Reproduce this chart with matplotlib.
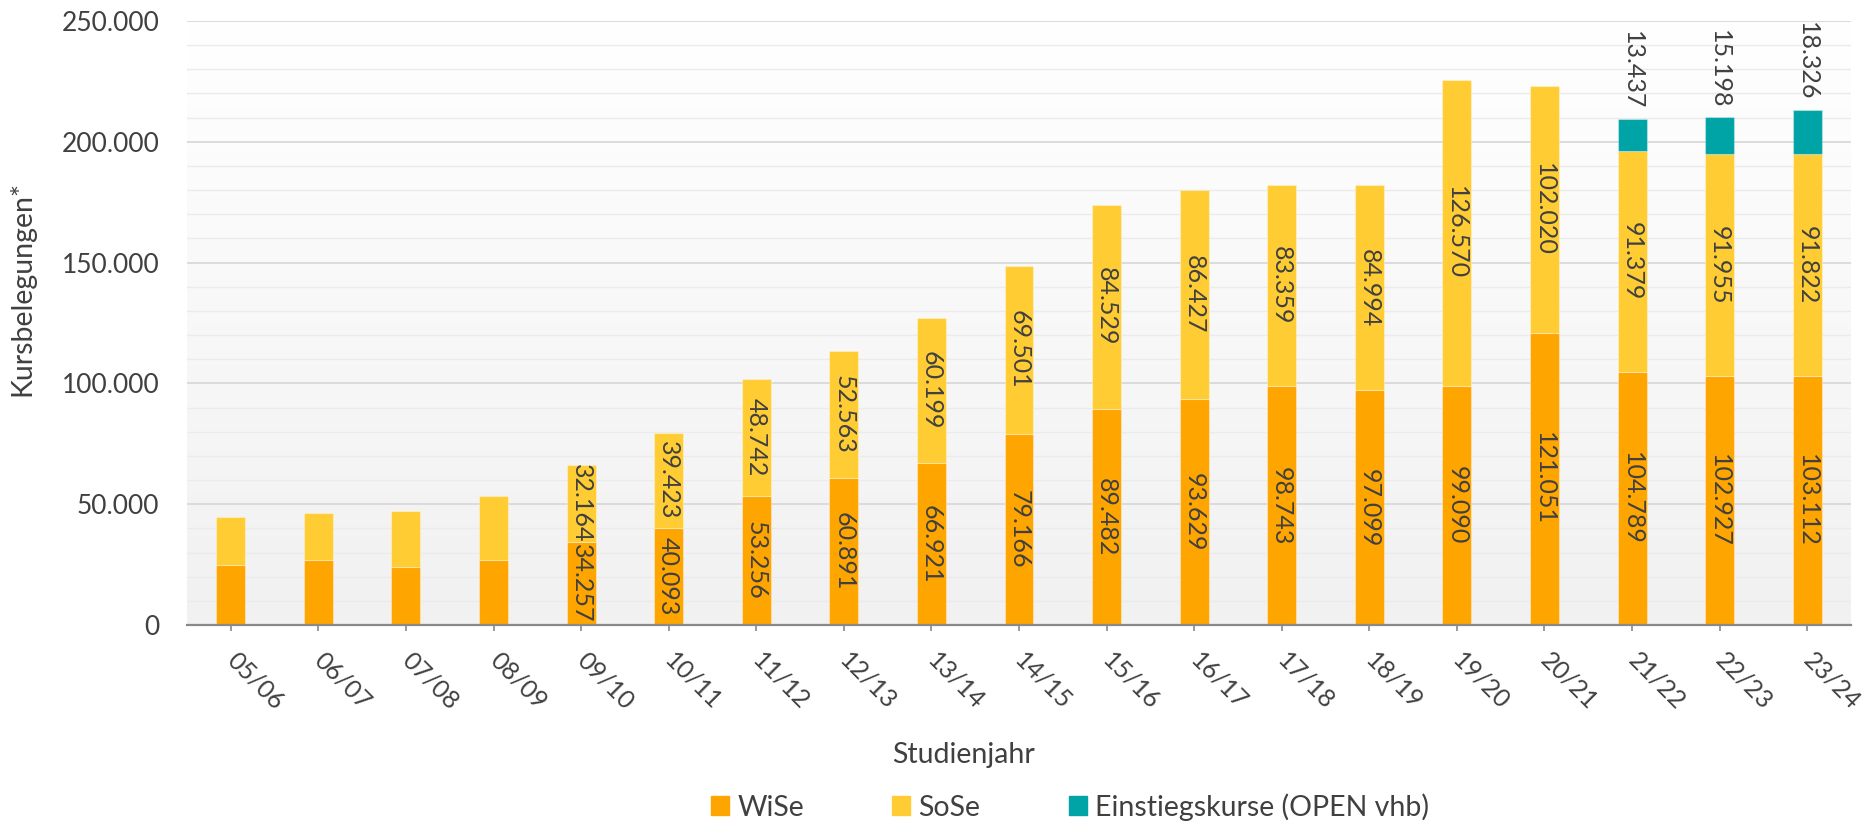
"""Kursbelegungen je Studienjahr (WiSe / SoSe / Einstiegskurse), gestapelte Säulen."""

import matplotlib.pyplot as plt
import numpy as np
from matplotlib.patches import Patch

plt.rcParams["font.family"] = ["Lato", "DejaVu Sans"]

YEARS = ["05/06", "06/07", "07/08", "08/09", "09/10", "10/11", "11/12", "12/13", "13/14",
         "14/15", "15/16", "16/17", "17/18", "18/19", "19/20", "20/21", "21/22", "22/23", "23/24"]
# first four years have no data labels in the source
WISE = [24800, 26850, 23950, 26850, 34257, 40093, 53256, 60891, 66921, 79166,
        89482, 93629, 98743, 97099, 99090, 121051, 104789, 102927, 103112]
SOSE = [19700, 19700, 23150, 26600, 32164, 39423, 48742, 52563, 60199, 69501,
        84529, 86427, 83359, 84994, 126570, 102020, 91379, 91955, 91822]
OPEN = [0, 0, 0, 0, 0, 0, 0, 0, 0, 0, 0, 0, 0, 0, 0, 0, 13437, 15198, 18326]
LABEL_START = 4

C_WISE = "#FFA500"
C_SOSE = "#FFCD33"
C_OPEN = "#00A3A6"
TXT = "#404040"
W, H = 1862, 821


def fmt(v):
    return f"{v:,}".replace(",", ".")


def main():
    fig = plt.figure(figsize=(W / 100, H / 100), dpi=100)
    ax = fig.add_axes([187 / W, 1 - 625 / H, (1851 - 187) / W, (625 - 21) / H])

    # plot area: soft white -> light grey gradient
    grad = np.linspace(1.0, 0.945, 256).reshape(-1, 1)
    ax.imshow(np.dstack([grad] * 3), extent=[0, 1, 0, 1], transform=ax.transAxes,
              aspect="auto", zorder=0)

    for v in range(10000, 250001, 10000):
        major = v % 50000 == 0
        ax.axhline(v, color="#d9d9d9" if major else "#ebebeb", lw=1.3 if major else 1.0, zorder=1)

    x = np.arange(len(YEARS))
    wise = np.array(WISE)
    sose = np.array(SOSE)
    opn = np.array(OPEN)
    bw = 0.33
    edge = dict(edgecolor=(1, 1, 1, 0.35), linewidth=0.8)

    ax.bar(x, wise, bw, color=C_WISE, zorder=3, **edge)
    ax.bar(x, sose, bw, bottom=wise, color=C_SOSE, zorder=3, **edge)
    m = opn > 0
    ax.bar(x[m], opn[m], bw, bottom=(wise + sose)[m], color=C_OPEN, zorder=3, **edge)

    lab = dict(rotation=270, ha="center", va="center", color=TXT, fontsize=18, zorder=4)
    for i in range(LABEL_START, len(YEARS)):
        ax.text(x[i], wise[i] / 2, fmt(WISE[i]), **lab)
        ax.text(x[i], wise[i] + sose[i] / 2, fmt(SOSE[i]), **lab)
    for i in x[m]:
        ax.annotate(fmt(OPEN[i]), (x[i], wise[i] + sose[i] + opn[i]), xytext=(0, 6.5),
                    textcoords="offset points", rotation=270, ha="center", va="bottom",
                    color=TXT, fontsize=18, zorder=4)

    ax.set_xlim(-0.5, len(YEARS) - 0.5)
    ax.set_ylim(0, 250000)
    ax.set_xticks(x, YEARS, rotation=-45, ha="left", va="center", rotation_mode="anchor")
    yt = list(range(0, 250001, 50000))
    ax.set_yticks(yt, [fmt(v) for v in yt])
    ax.tick_params(axis="x", length=4.3, width=1.2, color="#898989", pad=18,
                   labelsize=18, labelcolor=TXT)
    ax.tick_params(axis="y", length=0, pad=20, labelsize=19, labelcolor=TXT)
    for s in ("top", "right", "left"):
        ax.spines[s].set_visible(False)
    ax.spines["bottom"].set_color("#898989")
    ax.spines["bottom"].set_linewidth(1.6)
    ax.spines["bottom"].set_zorder(5)

    fig.text(22 / W, 1 - 289 / H, "Kursbelegungen*", rotation=90, ha="center", va="center",
             fontsize=20.5, color=TXT)
    fig.text(964 / W, 1 - 755 / H, "Studienjahr", ha="center", va="center",
             fontsize=20.5, color=TXT)

    handles = [Patch(color=C_WISE), Patch(color=C_SOSE), Patch(color=C_OPEN)]
    leg = fig.legend(handles, ["WiSe", "SoSe", "Einstiegskurse (OPEN vhb)"], loc="center",
                     bbox_to_anchor=(1070 / W, 1 - 807 / H), ncol=3, frameon=False,
                     fontsize=20.5, handlelength=0.63, handleheight=0.63,
                     handletextpad=0.3, columnspacing=3.1)
    for t in leg.get_texts():
        t.set_color(TXT)

    fig.savefig("out.png", dpi=100)


if __name__ == "__main__":
    main()
